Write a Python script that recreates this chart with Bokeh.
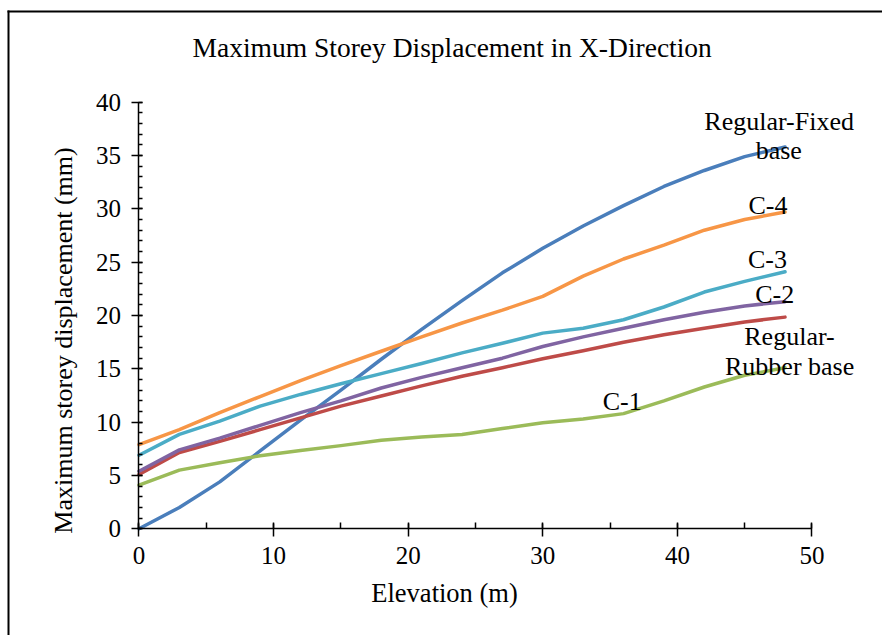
import math
from bokeh.plotting import figure
from bokeh.models import Range1d, Label, FixedTicker, BoxAnnotation
from bokeh.embed import file_html
from bokeh.resources import INLINE

# ---- data ----
elevation = [0, 3, 6, 9, 12, 15, 18, 21, 24, 27, 30, 33, 36, 39, 42, 45, 48]
regular_fixed = [0.0, 2.0, 4.4, 7.3, 10.2, 13.0, 15.9, 18.7, 21.4, 24.0, 26.3, 28.4, 30.3, 32.1, 33.6, 34.9, 35.8]
regular_rubber = [5.1, 7.15, 8.2, 9.3, 10.4, 11.5, 12.45, 13.4, 14.3, 15.1, 15.95, 16.7, 17.5, 18.2, 18.8, 19.4, 19.85]
c1 = [4.1, 5.5, 6.2, 6.85, 7.35, 7.8, 8.3, 8.6, 8.85, 9.4, 9.95, 10.3, 10.8, 12.0, 13.3, 14.4, 15.1]
c2 = [5.4, 7.4, 8.5, 9.7, 10.9, 12.0, 13.2, 14.2, 15.1, 16.0, 17.1, 18.0, 18.8, 19.6, 20.3, 20.9, 21.3]
c3 = [6.9, 8.85, 10.1, 11.5, 12.6, 13.6, 14.55, 15.5, 16.5, 17.4, 18.35, 18.8, 19.6, 20.8, 22.2, 23.2, 24.1]
c4 = [7.9, 9.3, 10.9, 12.4, 13.9, 15.3, 16.65, 18.0, 19.3, 20.5, 21.8, 23.7, 25.3, 26.6, 28.0, 29.0, 29.7]

series_names = ["Regular-Fixed base", "Regular-Rubber base", "C-1", "C-2", "C-3", "C-4"]
series_values = [regular_fixed, regular_rubber, c1, c2, c3, c4]
series_colors = ["#4A7EBB", "#BE4B48", "#9BBB59", "#8064A2", "#4BACC6", "#F79646"]

x_ticks = [0, 10, 20, 30, 40, 50]
y_ticks = [0, 5, 10, 15, 20, 25, 30, 35, 40]
x_minor = [0, 5, 10, 15, 20, 25, 30, 35, 40, 45, 50]
y_minor = list(range(0, 41))

title_text = "Maximum Storey Displacement in X-Direction"
x_label = "Elevation (m)"
y_label = "Maximum storey displacement (mm)"

FONT = "Liberation Serif"

# frame covers the whole canvas; axes are pinned at x=0 / y=0
p = figure(width=882, height=635, output_backend="svg", toolbar_location=None,
           x_range=Range1d(-10.29, 55.24), y_range=Range1d(-10.005, 49.54),
           min_border=0, min_border_left=0, min_border_right=0,
           min_border_top=0, min_border_bottom=0)
p.outline_line_color = None
p.background_fill_color = "white"
p.border_fill_color = "white"
p.xgrid.visible = False
p.ygrid.visible = False

for ax, ticks, minor, bnds in ((p.xaxis, x_ticks, x_minor, (0, 50)), (p.yaxis, y_ticks, y_minor, (0, 40))):
    ax.ticker = FixedTicker(ticks=ticks, minor_ticks=minor)
    ax.bounds = bnds
    ax.fixed_location = 0
    ax.axis_line_color = "black"
    ax.axis_line_width = 1.5
    ax.major_tick_line_color = "black"
    ax.major_tick_line_width = 1.5
    ax.minor_tick_line_color = "black"
    ax.minor_tick_line_width = 1.5
    ax.major_label_text_font = FONT
    ax.major_label_text_font_size = "25px"
    ax.major_label_text_color = "black"

p.xaxis.major_tick_out = 8
p.xaxis.major_tick_in = 5
p.xaxis.minor_tick_out = 0
p.xaxis.minor_tick_in = 6
p.xaxis.major_label_standoff = 10
p.yaxis.major_tick_out = 7
p.yaxis.major_tick_in = 4
p.yaxis.minor_tick_out = 0
p.yaxis.minor_tick_in = 4
p.yaxis.major_label_standoff = 11

for name, vals, col in zip(series_names, series_values, series_colors):
    p.line(elevation, vals, line_color=col, line_width=3.5, line_join="round", line_cap="round")

def lab(text, x, y, size="26px", angle=0.0, baseline="alphabetic"):
    p.add_layout(Label(x=x, y=y, text=text, text_font=FONT, text_font_size=size,
                       text_align="center", text_baseline=baseline, angle=angle,
                       text_color="black"))

# series labels
lab("Regular-Fixed", 47.56, 38.24)
lab("base", 47.53, 35.52)
lab("C-4", 46.73, 30.30)
lab("C-3", 46.69, 25.21)
lab("C-2", 47.23, 21.98)
lab("Regular-", 48.33, 18.02)
lab("Rubber base", 48.34, 15.20)
lab("C-1", 35.9, 11.92)

# chart title and axis titles
lab(title_text, 23.27, 45.17, size="27.5px")
lab(x_label, 22.7, -6.05, size="26.5px")
lab(y_label, -5.61, 17.66, size="26px", angle=math.pi / 2, baseline="middle")

# chart-area border: left and top edges as thin filled strips
for l, r, t, b in ((7, 9, 10, 2000), (7, 2000, 10, 12)):
    p.add_layout(BoxAnnotation(left=l, right=r, top=t, bottom=b,
                               left_units="canvas", right_units="canvas",
                               top_units="canvas", bottom_units="canvas",
                               fill_color="black", fill_alpha=1.0,
                               line_color=None, line_alpha=0))

open("out.html", "w").write(file_html(p, INLINE))
